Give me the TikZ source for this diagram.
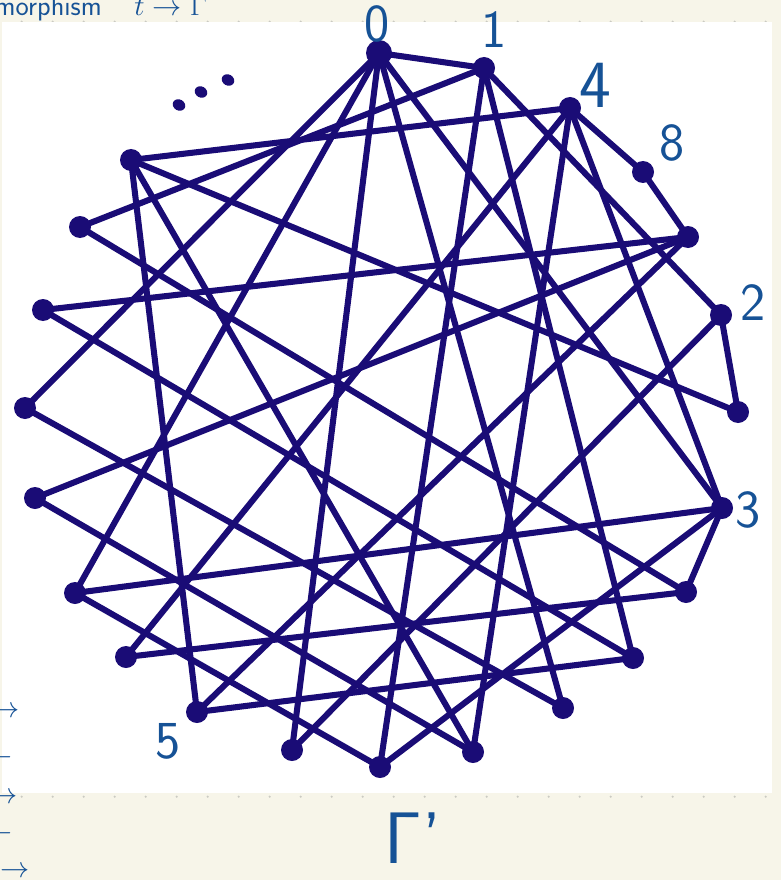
\documentclass[tikz,border=0pt]{standalone}
\usepackage{amsmath,amssymb}

\definecolor{edgeink}{RGB}{26,12,118}
\definecolor{penblue}{RGB}{22,82,150}
\definecolor{paper}{RGB}{247,245,233}
\definecolor{griddot}{RGB}{202,202,194}

\begin{document}
\begin{tikzpicture}[x=0.025cm,y=-0.025cm,
  edge/.style={edgeink,line width=4.3pt,line cap=round},
  lab/.style={penblue,inner sep=0pt,font=\sffamily\fontsize{38}{40}\selectfont},
  scrap/.style={penblue,inner sep=0pt,font=\sffamily\fontsize{20}{22}\selectfont}]
\useasboundingbox (0,0) rectangle (781,880);
\fill[paper] (0,0) rectangle (781,880);
\foreach \i in {0,...,24}
  \foreach \j in {0,...,25}
    \fill[griddot] (21.7+31*\i,21.7+31*\j) circle (1.2);
\fill[white] (2,22) rectangle (772,793);

\coordinate (v0) at (379,53);
\coordinate (v1) at (484,68);
\coordinate (v4) at (570,108);
\coordinate (v8) at (643,172);
\coordinate (ua) at (688,237);
\coordinate (v2) at (721,315);
\coordinate (ub) at (738,412);
\coordinate (v3) at (722,508);
\coordinate (uc) at (686,592);
\coordinate (ud) at (633,658);
\coordinate (ue) at (563,708);
\coordinate (uf) at (473,752);
\coordinate (ug) at (380,767);
\coordinate (uh) at (292,750);
\coordinate (v5) at (197,712);
\coordinate (ui) at (126,657);
\coordinate (uj) at (75,593);
\coordinate (uk) at (35,498);
\coordinate (ul) at (25,408);
\coordinate (um) at (43,310);
\coordinate (un) at (80,227);
\coordinate (up) at (131,160);

% edges
\draw[edge] (v0) -- (v1);
\draw[edge] (v0) -- (ul);
\draw[edge] (v0) -- (uj);
\draw[edge] (v0) -- (uh);
\draw[edge] (v0) -- (ue);
\draw[edge] (v0) -- (v3);
\draw[edge] (v1) -- (un);
\draw[edge] (v1) -- (ug);
\draw[edge] (v1) -- (ud);
\draw[edge] (v1) -- (v2);
\draw[edge] (v4) -- (up);
\draw[edge] (v4) -- (v8) -- (ua);
\draw[edge] (v4) -- (ui);
\draw[edge] (v4) -- (uf);
\draw[edge] (v4) -- (v3);
\draw[edge] (ua) -- (um);
\draw[edge] (ua) -- (uk);
\draw[edge] (ua) -- (v5);
\draw[edge] (v2) -- (ub) -- (up);
\draw[edge] (v2) -- (uh);
\draw[edge] (v3) -- (uj);
\draw[edge] (v3) -- (ug);
\draw[edge] (v3) -- (uc);
\draw[edge] (uc) -- (un);
\draw[edge] (uc) -- (ui);
\draw[edge] (ud) -- (v5);
\draw[edge] (ud) -- (um);
\draw[edge] (ue) -- (ul);
\draw[edge] (uf) -- (up);
\draw[edge] (uf) -- (uk);
\draw[edge] (ug) -- (uj);
\draw[edge] (up) -- (v5);

% vertices
\foreach \p in {v1,v4,v8,ua,v2,ub,v3,uc,ud,ue,uf,ug,uh,v5,ui,uj,uk,ul,um,un,up}
  \fill[edgeink] (\p) circle (11);
\fill[edgeink] (v0) circle (13);

% dots
\fill[edgeink,rotate around={-30:(179,105)}] (179,105) ellipse (6.5 and 5.5);
\fill[edgeink,rotate around={-30:(201,92)}] (201,92) ellipse (6.5 and 5.5);
\fill[edgeink,rotate around={-30:(228,80)}] (228,80) ellipse (6.5 and 5.5);

% labels
\node[lab] (l0) at (377,24) {0};
\node[lab] (l1) at (494,30) {1};
\node[lab,font=\sffamily\fontsize{48}{50}\selectfont] (l4) at (595,85) {4};
\node[lab] (l8) at (672,143) {8};
\node[lab] (l2) at (753,303) {2};
\node[lab] (l3) at (748,510) {3};
\node[lab] (l5) at (168,741) {5};
\node[lab,font=\sffamily\fontsize{52}{54}\selectfont] (gam) at (413,838) {Γ'};

% cut-off writing at the edges
\node[scrap,anchor=base east] (mor) at (102,16) {morphism};
\node[scrap,anchor=base west] (tmap) at (134,16) {$t\to\Gamma$};
\node[scrap,anchor=east] (s1) at (20,712) {$\to$};
\node[scrap,anchor=east] (s2) at (13,757) {$-$};
\node[scrap,anchor=east] (s3) at (18,798) {$\to$};
\node[scrap,anchor=east] (s4) at (13,833) {$-$};
\node[scrap,anchor=east] (s5) at (30,872) {$\to$};
\end{tikzpicture}
\end{document}
